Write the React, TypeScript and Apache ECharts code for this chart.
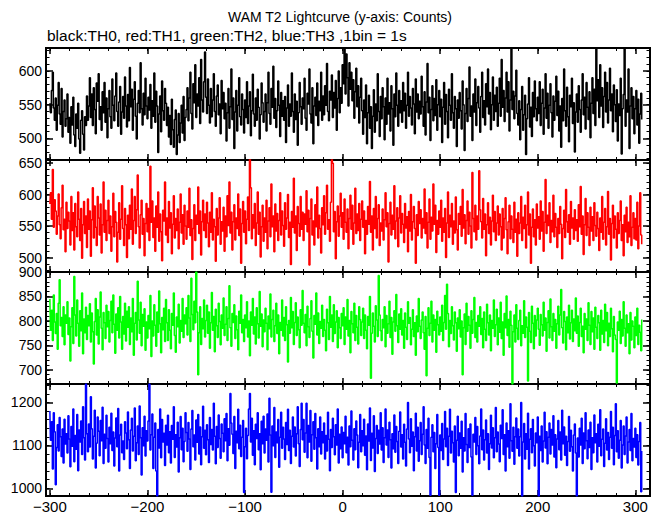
import React, { useEffect, useRef } from "react";
import * as echarts from "echarts";

const TITLE = "WAM T2 Lightcurve (y-axis: Counts)";
const SUBTITLE = "black:TH0, red:TH1, green:TH2, blue:TH3 ,1bin = 1s";

// time of first bin (s) and bin width (s)
const T_START = -300;
const BIN_S = 1;

// TH0 (black) counts per 1 s bin, t = -300 ... 307
const TH0 = [
  552, 538, 571, 598, 545, 527, 560, 512, 549, 583, 536, 521, 574, 502, 540, 557, 518, 529, 566, 509,
  531, 493, 547, 520, 561, 505, 488, 536, 515, 552, 499, 478, 527, 541, 506, 483, 532, 519, 563, 527,
  548, 590, 531, 566, 519, 575, 543, 507, 582, 555, 596, 528, 547, 512, 569, 538, 583, 524, 560, 501,
  544, 571, 532, 515, 588, 549, 526, 563, 597, 540, 518, 554, 577, 506, 539, 562, 530, 591, 548, 517,
  565, 526, 605, 547, 573, 512, 558, 584, 533, 499, 552, 571, 538, 612, 544, 520, 567, 535, 589, 548,
  529, 561, 542, 580, 515, 556, 533, 597, 524, 570, 548, 479, 536, 563, 510, 585, 541, 527, 574, 552,
  519, 546, 502, 534, 491, 558, 513, 487, 528, 542, 476, 505, 537, 494, 523, 549, 508, 562, 497, 531,
  543, 575, 526, 560, 598, 537, 514, 581, 553, 609, 531, 566, 548, 590, 522, 617, 557, 539, 584, 628,
  561, 537, 588, 549, 523, 574, 532, 557, 596, 540, 518, 563, 579, 535, 551, 507, 586, 544, 568, 529,
  552, 496, 538, 574, 515, 547, 603, 528, 560, 485, 539, 571, 511, 549, 590, 532, 520, 566, 543, 508,
  557, 531, 584, 522, 548, 569, 504, 541, 595, 536, 518, 560, 527, 573, 546, 499, 535, 582, 553, 524,
  540, 566, 511, 553, 598, 537, 521, 574, 546, 607, 530, 559, 516, 541, 585, 549, 503, 568, 533, 556,
  527, 562, 494, 545, 579, 518, 551, 533, 597, 540, 509, 566, 528, 555, 490, 538, 583, 547, 521, 560,
  544, 589, 530, 512, 567, 551, 603, 536, 523, 575, 492, 548, 561, 534, 582, 519, 555, 541, 598, 527,
  563, 535, 578, 549, 611, 540, 526, 570, 557, 594, 531, 568, 545, 586, 512, 559, 600, 538, 575, 552,
  609, 581, 634, 566, 625, 590, 548, 612, 573, 598, 556, 587, 530, 569, 604, 547, 578, 523, 561, 589,
  541, 506, 557, 531, 579, 492, 538, 564, 515, 547, 485, 533, 572, 509, 551, 526, 596, 540, 503, 562,
  529, 575, 547, 498, 560, 521, 589, 536, 553, 511, 578, 544, 490, 566, 532, 597, 549, 518, 571, 538,
  556, 524, 583, 541, 567, 515, 549, 598, 533, 562, 545, 520, 574, 551, 507, 588, 539, 566, 529, 555,
  536, 592, 547, 518, 569, 505, 554, 611, 538, 561, 497, 543, 578, 526, 559, 534, 587, 512, 550, 571,
  532, 558, 494, 546, 583, 521, 565, 540, 501, 573, 549, 527, 596, 538, 515, 562, 544, 488, 557, 530,
  568, 541, 514, 585, 550, 482, 537, 574, 525, 559, 606, 533, 548, 497, 566, 539, 588, 519, 553, 577,
  545, 509, 562, 598, 531, 556, 520, 581, 547, 603, 536, 568, 513, 550, 591, 527, 564, 540, 576, 518,
  552, 589, 533, 617, 546, 571, 525, 560, 598, 539, 584, 511, 557, 634, 543, 570, 529, 563, 601, 537,
  520, 556, 498, 543, 577, 512, 535, 564, 476, 529, 551, 590, 517, 546, 503, 568, 532, 585, 544, 526,
  561, 537, 584, 519, 552, 573, 506, 545, 596, 530, 567, 515, 549, 581, 538, 502, 563, 527, 555, 592,
  534, 570, 511, 548, 487, 559, 526, 603, 541, 518, 576, 532, 495, 564, 547, 589, 522, 553, 480, 539,
  566, 524, 578, 543, 509, 557, 596, 535, 561, 514, 583, 546, 528, 569, 501, 552, 590, 537, 573, 519,
  634, 556, 587, 531, 609, 548, 575, 516, 562, 598, 539, 583, 523, 557, 604, 541, 566, 510, 579, 550,
  525, 572, 496, 551, 534, 589, 477, 544, 565, 634, 518, 557, 539, 603, 485, 548, 575, 529, 562, 507,
  544, 571, 520, 558, 493, 536, 567, 528,
];

// TH1 (red)
const TH1 = [
  585, 603, 561, 640, 548, 592, 574, 537, 566, 601, 552, 530, 579, 615, 544, 561, 509, 588, 546, 572,
  558, 520, 597, 543, 571, 512, 586, 549, 533, 604, 561, 527, 578, 499, 552, 589, 538, 566, 516, 593,
  545, 574, 502, 560, 611, 531, 582, 548, 519, 597, 563, 536, 585, 507, 552, 620, 540, 575, 527, 559,
  591, 538, 566, 510, 549, 602, 533, 573, 556, 493, 540, 587, 529, 561, 614, 546, 519, 578, 552, 500,
  567, 530, 583, 545, 609, 521, 559, 597, 538, 576, 631, 549, 515, 568, 591, 537, 562, 503, 554, 586,
  541, 578, 527, 645, 556, 590, 532, 563, 510, 582, 548, 604, 526, 569, 541, 495, 575, 558, 620, 536,
  563, 524, 589, 547, 571, 506, 553, 598, 531, 562, 543, 577, 514, 556, 601, 539, 568, 521, 583, 550,
  529, 574, 548, 610, 535, 560, 497, 546, 584, 527, 567, 553, 612, 538, 574, 504, 557, 591, 543, 569,
  532, 588, 555, 517, 572, 540, 603, 528, 561, 549, 494, 578, 536, 563, 595, 521, 557, 542, 580, 510,
  566, 533, 598, 551, 620, 539, 572, 512, 557, 584, 528, 563, 546, 601, 535, 577, 491, 554, 589, 540,
  574, 522, 561, 596, 543, 657, 611, 530, 568, 547, 586, 519, 555, 604, 537, 572, 501, 549, 583, 526,
  563, 540, 591, 514, 558, 579, 533, 617, 549, 566, 509, 585, 542, 570, 527, 559, 603, 536, 574, 551,
  518, 587, 545, 563, 600, 532, 556, 489, 573, 548, 626, 539, 566, 511, 581, 554, 534, 597, 545, 572,
  527, 569, 553, 606, 541, 575, 488, 562, 593, 536, 558, 520, 584, 549, 612, 531, 567, 546, 507, 579,
  552, 598, 537, 571, 615, 545, 560, 526, 588, 657, 650, 541, 573, 498, 557, 582, 534, 566, 602, 548,
  571, 529, 593, 556, 540, 577, 514, 562, 599, 545, 583, 521, 555, 610, 538, 569, 543, 586, 527, 561,
  590, 548, 574, 506, 559, 537, 581, 553, 621, 540, 566, 512, 578, 546, 597, 531, 562, 584, 519, 555,
  542, 577, 528, 560, 603, 549, 571, 493, 554, 588, 536, 567, 545, 614, 530, 558, 579, 517, 563, 598,
  539, 570, 553, 524, 586, 547, 565, 509, 573, 542, 600, 528, 557, 581, 546, 491, 568, 535, 589, 554,
  576, 531, 562, 547, 609, 538, 571, 515, 556, 593, 529, 564, 542, 617, 553, 583, 508, 559, 537, 574,
  548, 591, 526, 563, 540, 578, 500, 555, 604, 532, 567, 549, 586, 521, 558, 539, 596, 544, 512, 570,
  553, 581, 534, 608, 547, 568, 522, 559, 590, 537, 572, 550, 515, 635, 562, 541, 583, 528, 566, 545,
  638, 576, 557, 531, 594, 545, 569, 503, 552, 587, 538, 564, 520, 558, 599, 541, 573, 527, 555, 582,
  536, 569, 549, 512, 578, 531, 562, 595, 544, 506, 557, 583, 530, 566, 545, 524, 588, 540, 561, 502,
  571, 538, 555, 597, 527, 564, 546, 583, 515, 552, 604, 536, 569, 491, 548, 577, 533, 560, 520, 585,
  547, 565, 529, 590, 542, 573, 510, 556, 624, 538, 567, 551, 587, 524, 559, 541, 599, 533, 570, 548,
  516, 562, 538, 581, 553, 498, 546, 575, 532, 608, 557, 540, 568, 521, 589, 547, 563, 529, 576, 543,
  560, 526, 584, 549, 613, 537, 566, 505, 552, 594, 535, 571, 548, 519, 580, 542, 565, 527, 587, 551,
  534, 572, 546, 511, 563, 540, 597, 529, 556, 578, 520, 549, 605, 537, 562, 496, 554, 583, 531, 566,
  545, 515, 571, 538, 559, 590, 527, 552, 503, 567, 541, 580, 524, 556, 533, 598, 519, 548, 571, 530,
  562, 528, 588, 514, 550, 603, 536, 521,
];

// TH2 (green)
const TH2 = [
  845, 781, 822, 760, 853, 798, 774, 815, 742, 836, 884, 790, 807, 768, 829, 751, 812, 795, 839, 772,
  806, 718, 788, 827, 754, 891, 812, 769, 843, 795, 748, 821, 780, 857, 733, 804, 776, 828, 762, 811,
  790, 835, 757, 816, 778, 712, 799, 846, 771, 823, 753, 808, 859, 785, 741, 817, 796, 764, 832, 788,
  819, 757, 801, 840, 776, 853, 793, 734, 814, 781, 827, 765, 850, 798, 742, 809, 773, 836, 759, 820,
  787, 829, 752, 806, 778, 846, 730, 795, 817, 761, 881, 802, 775, 838, 749, 813, 789, 825, 740, 798,
  765, 811, 784, 852, 727, 800, 769, 833, 791, 748, 818, 777, 861, 794, 735, 807, 782, 826, 758, 844,
  796, 760, 823, 781, 743, 815, 791, 857, 770, 736, 808, 788, 834, 755, 801, 779, 846, 766, 812, 794,
  827, 771, 852, 806, 758, 887, 813, 782, 840, 796, 900, 818, 690, 776, 829, 752, 805, 784, 843, 767,
  801, 832, 775, 818, 744, 796, 858, 781, 809, 737, 824, 790, 766, 836, 799, 751, 812, 785, 847, 770,
  793, 829, 760, 805, 872, 786, 748, 815, 797, 833, 764, 810, 782, 741, 820, 795, 853, 776, 803, 758,
  812, 786, 839, 767, 800, 729, 818, 791, 846, 773, 808, 753, 827, 794, 765, 860, 789, 814, 747, 802,
  778, 826, 795, 741, 810, 784, 855, 767, 803, 822, 758, 790, 836, 774, 812, 733, 797, 781, 843, 769,
  807, 760, 829, 792, 716, 801, 775, 848, 786, 819, 752, 797, 837, 770, 808, 782, 745, 823, 791, 862,
  795, 776, 813, 749, 830, 788, 766, 805, 841, 779, 724, 811, 793, 857, 771, 816, 754, 799, 785, 832,
  768, 803, 781, 739, 824, 796, 762, 850, 787, 812, 758, 833, 774, 798, 821, 745, 807, 786, 764, 815,
  790, 827, 752, 808, 783, 844, 769, 801, 735, 819, 794, 776, 836, 760, 811, 787, 753, 829, 803, 770,
  798, 826, 764, 812, 781, 743, 809, 791, 850, 683, 775, 816, 789, 757, 831, 802, 768, 893, 812, 780,
  760, 803, 786, 829, 747, 811, 775, 794, 840, 766, 807, 732, 798, 821, 779, 854, 790, 756, 814, 783,
  825, 771, 801, 744, 816, 787, 762, 839, 795, 807, 751, 783, 823, 768, 796, 730, 810, 778, 846, 789,
  764, 802, 818, 776, 742, 809, 688, 785, 827, 770, 795, 840, 757, 812, 781, 803, 736, 820, 792, 771,
  808, 779, 832, 760, 797, 852, 783, 875, 815, 747, 801, 774, 829, 790, 761, 818, 796, 738, 806, 784,
  823, 767, 800, 690, 786, 814, 752, 836, 779, 809, 791, 744, 821, 775, 803, 848, 766, 797, 757, 811,
  789, 829, 772, 805, 745, 818, 783, 760, 834, 796, 771, 812, 739, 801, 785, 843, 768, 792, 824, 751,
  806, 777, 838, 764, 798, 730, 815, 786, 851, 770, 803, 746, 820, 791, 671, 778, 812, 757, 833, 785,
  762, 801, 822, 749, 790, 775, 841, 766, 808, 787, 677, 817, 779, 756, 830, 795, 743, 811, 769, 802,
  826, 783, 750, 813, 792, 769, 838, 781, 806, 738, 797, 821, 765, 845, 788, 760, 815, 779, 803, 744,
  794, 830, 771, 812, 864, 786, 755, 819, 799, 741, 808, 776, 832, 763, 796, 822, 758, 804, 780, 847,
  775, 810, 748, 797, 826, 768, 789, 735, 815, 783, 804, 760, 837, 791, 752, 819, 778, 806, 742, 828,
  787, 764, 811, 796, 740, 822, 773, 801, 756, 834, 780, 817, 749, 795, 768, 826, 784, 737, 809, 771,
  762, 673, 798, 781, 820, 754, 803, 769, 839, 785, 748, 812, 776, 794, 733, 817, 761, 800, 789, 745,
  808, 770, 826, 752, 791, 777, 739, 803,
];

// TH3 (blue)
const TH3 = [
  1180, 1112, 1155, 1045, 1176, 1132, 1008, 1095, 1148, 1087, 1165, 1120, 1074, 1138, 1059, 1161, 1103, 1127, 1082, 1169,
  1115, 1050, 1144, 1098, 1185, 1062, 1123, 1091, 1172, 1041, 1136, 1108, 1157, 1079, 1190, 1118, 1066, 1243, 1127, 1085,
  1150, 1096, 1213, 1139, 1068, 1121, 1182, 1047, 1105, 1166, 1133, 1076, 1158, 1111, 1189, 1058, 1126, 1093, 1170, 1116,
  1061, 1142, 1104, 1175, 1088, 1131, 1052, 1117, 1164, 1097, 1186, 1040, 1124, 1149, 1083, 1110, 1067, 1155, 1129, 1092,
  1178, 1113, 1046, 1136, 1163, 1087, 1121, 1187, 1064, 1106, 1145, 1079, 1192, 1118, 1031, 1141, 1099, 1168, 1075, 1134,
  1110, 1157, 1243, 1089, 1125, 1173, 1046, 1119, 1152, 1040, 982, 1137, 1094, 1185, 1071, 1160, 1108, 1128, 1053, 1147,
  1101, 1170, 1083, 1132, 1059, 1146, 1114, 1190, 1072, 1125, 1096, 1154, 1038, 1118, 1167, 1090, 1140, 1062, 1109, 1176,
  1130, 1086, 1153, 1115, 1044, 1138, 1181, 1097, 1124, 1066, 1159, 1107, 1172, 1080, 1143, 1055, 1120, 1191, 1093, 1135,
  1078, 1148, 1113, 1060, 1165, 1102, 1137, 1089, 1198, 1121, 1057, 1144, 1095, 1171, 1116, 1070, 1150, 1128, 1085, 1162,
  1111, 1174, 1064, 1139, 1100, 1221, 1152, 1126, 1081, 1167, 1046, 1133, 1106, 1184, 1092, 1147, 1074, 1119, 1158, 990,
  1097, 1140, 1069, 1123, 1185, 1221, 1108, 1163, 1077, 1134, 1055, 1149, 1116, 1176, 1090, 1127, 1043, 1156, 1104, 1168,
  1082, 1138, 1112, 1173, 1061, 1210, 1124, 991, 1145, 1099, 1188, 1072, 1131, 1106, 1160, 1049, 1119, 1177, 1093, 1142,
  1115, 1067, 1153, 1102, 1184, 1088, 1135, 1058, 1121, 1166, 1096, 1143, 1075, 1127, 1190, 1104, 1051, 1137, 1198, 1113,
  1160, 1084, 1129, 1198, 1071, 1146, 1108, 1181, 1063, 1125, 1155, 1091, 1174, 1118, 1045, 1139, 1097, 1166, 1080, 1132,
  1106, 1152, 1068, 1123, 1087, 1177, 1114, 1041, 1137, 1095, 1163, 1120, 1078, 1148, 1101, 1185, 1059, 1126, 1092, 1143,
  1071, 1130, 1104, 1168, 1083, 1119, 1054, 1145, 1097, 1180, 1112, 1066, 1139, 1090, 1157, 1124, 1048, 1107, 1172, 1085,
  1134, 1099, 1161, 1077, 1122, 1043, 1150, 1110, 1187, 1065, 1128, 1094, 1169, 1039, 1116, 1146, 1081, 1135, 1103, 1176,
  1089, 1141, 1060, 1118, 1185, 1101, 1136, 1072, 1154, 1113, 1047, 1127, 1092, 1171, 1084, 1144, 1109, 1058, 1133, 1178,
  1096, 1125, 1068, 1149, 1107, 1052, 1138, 1200, 1115, 1083, 1162, 1098, 1131, 1041, 1120, 1175, 1087, 1142, 1063, 1111,
  1153, 1079, 1126, 1190, 1101, 1058, 1137, 1093, 1163, 1072, 984, 1119, 1148, 1085, 1130, 1046, 1104, 1172, 1095, 984,
  1124, 1088, 1151, 1067, 1115, 1179, 1097, 1140, 1053, 1121, 1184, 1082, 1133, 1106, 1061, 1145, 990, 1112, 1168, 1076,
  1129, 1093, 1156, 1038, 1118, 1087, 1174, 1102, 1060, 1139, 1095, 1150, 1073, 984, 1126, 1108, 1165, 1079, 1144, 1099,
  1057, 1122, 1185, 1090, 1136, 1066, 1113, 1159, 1082, 1127, 1044, 1104, 1170, 1094, 1141, 1071, 1118, 1188, 1085, 1131,
  1103, 1062, 1147, 1116, 1183, 1079, 1125, 1040, 1152, 1097, 1134, 1070, 1197, 1111, 1086, 1142, 1056, 1120, 1164, 1093,
  1138, 1075, 1120, 1200, 982, 1108, 1151, 1068, 1127, 1091, 1175, 1045, 1114, 1139, 1083, 1160, 1099, 1052, 1129, 1106,
  1166, 982, 1121, 1088, 1145, 1061, 1110, 1177, 1094, 1132, 1057, 1119, 1152, 1080, 1137, 1101, 1169, 1073, 1125, 1048,
  1115, 1158, 1090, 1131, 1066, 1182, 1104, 1143, 1077, 1121, 1053, 1109, 1167, 1086, 1135, 1097, 1040, 1124, 1150, 1082,
  982, 1117, 1073, 1140, 1101, 1163, 1058, 1129, 1092, 1176, 1111, 1069, 1136, 1095, 1154, 1044, 1118, 1083, 1171, 1106,
  1127, 1061, 1149, 1098, 1183, 1076, 1114, 1138, 1051, 1105, 1162, 1089, 1130, 1067, 1119, 1179, 1093, 1142, 1055, 1123,
  1197, 1085, 1134, 1070, 1112, 1158, 1047, 1101, 1145, 1079, 1122, 1166, 1059, 1108, 1137, 1088, 1174, 1064, 1116, 1096,
  1140, 1072, 1125, 1054, 1109, 1153, 992, 1087,
];

// x axis
const X_RANGE = [-304, 315];
const X_MAJOR = [-300, -200, -100, 0, 100, 200, 300];
const X_MINOR = [
  -300, -280, -260, -240, -220, -200, -180, -160, -140, -120, -100, -80, -60, -40, -20,
  0, 20, 40, 60, 80, 100, 120, 140, 160, 180, 200, 220, 240, 260, 280, 300,
];

// y axes, one per panel
const Y_RANGES = [
  [468, 634],
  [477, 655],
  [671, 900],
  [982, 1243],
];
const Y_MAJOR = [
  [500, 550, 600],
  [500, 550, 600, 650],
  [700, 750, 800, 850, 900],
  [1000, 1100, 1200],
];
const Y_MINOR = [
  [470, 480, 490, 500, 510, 520, 530, 540, 550, 560, 570, 580, 590, 600, 610, 620, 630],
  [480, 490, 500, 510, 520, 530, 540, 550, 560, 570, 580, 590, 600, 610, 620, 630, 640, 650],
  [680, 690, 700, 710, 720, 730, 740, 750, 760, 770, 780, 790, 800, 810, 820, 830, 840, 850, 860, 870, 880, 890, 900],
  [1000, 1020, 1040, 1060, 1080, 1100, 1120, 1140, 1160, 1180, 1200, 1220, 1240],
];

const SERIES_NAMES = ["TH0", "TH1", "TH2", "TH3"];
const SERIES_DATA = [TH0, TH1, TH2, TH3];
const SERIES_COLORS = ["#000000", "#ff0000", "#00ff00", "#0000ff"];

const FONT = '"Liberation Sans", Arial, Helvetica, sans-serif';

function buildOption() {
  const GRID_TOP = 48;
  const PANEL_H = 112;
  const LEFT = 46;
  const RIGHT = 11;
  const grids: any[] = [];
  const xAxes: any[] = [];
  const yAxes: any[] = [];
  const series: any[] = [];
  const axisLine = { show: true, onZero: false, lineStyle: { color: "#000", width: 2 } };
  const fmtX = (v: number) => String(v).replace("-", "\u2212");
  const fmtY = (v: number) => String(v);

  SERIES_DATA.forEach((data, i) => {
    grids.push({ left: LEFT, right: RIGHT, top: GRID_TOP + i * PANEL_H, height: PANEL_H });
    const xBase = {
      type: "value",
      gridIndex: i,
      min: X_RANGE[0],
      max: X_RANGE[1],
      splitLine: { show: false },
      axisLine,
    };
    const xMain = xAxes.length;
    (["bottom", "top"] as const).forEach((pos) => {
      xAxes.push({
        ...xBase,
        position: pos,
        axisTick: { show: true, inside: true, length: 6, customValues: X_MAJOR, lineStyle: { color: "#000", width: 1.5 } },
        axisLabel: {
          show: pos === "bottom" && i === SERIES_DATA.length - 1,
          customValues: X_MAJOR,
          formatter: fmtX,
          color: "#000",
          fontFamily: FONT,
          fontSize: 15,
          lineHeight: 14,
          margin: 3,
        },
      });
      xAxes.push({
        ...xBase,
        position: pos,
        axisTick: { show: true, inside: true, length: 3, customValues: X_MINOR, lineStyle: { color: "#000", width: 1 } },
        axisLabel: { show: false },
      });
    });

    const [ymin, ymax] = Y_RANGES[i];
    const yBase = {
      type: "value",
      gridIndex: i,
      min: ymin,
      max: ymax,
      splitLine: { show: false },
      axisLine,
    };
    const yMain = yAxes.length;
    (["left", "right"] as const).forEach((pos) => {
      yAxes.push({
        ...yBase,
        position: pos,
        axisTick: { show: true, inside: true, length: 7, customValues: Y_MAJOR[i], lineStyle: { color: "#000", width: 1.5 } },
        axisLabel: {
          show: pos === "left",
          customValues: Y_MAJOR[i],
          formatter: fmtY,
          color: "#000",
          fontFamily: FONT,
          fontSize: 14,
          lineHeight: 12,
          margin: 4,
        },
      });
      yAxes.push({
        ...yBase,
        position: pos,
        axisTick: { show: true, inside: true, length: 3.5, customValues: Y_MINOR[i], lineStyle: { color: "#000", width: 1 } },
        axisLabel: { show: false },
      });
    });

    series.push({
      name: SERIES_NAMES[i],
      type: "line",
      xAxisIndex: xMain,
      yAxisIndex: yMain,
      data: data.map((v, k) => [T_START + k * BIN_S, v]),
      showSymbol: false,
      symbol: "none",
      step: "middle",
      clip: true,
      silent: true,
      lineStyle: { color: SERIES_COLORS[i], width: 1.5 },
      itemStyle: { color: SERIES_COLORS[i] },
    });
  });

  return {
    animation: false,
    backgroundColor: "#ffffff",
    grid: grids,
    xAxis: xAxes,
    yAxis: yAxes,
    series,
    graphic: [
      {
        type: "text",
        x: 340,
        y: 17,
        style: {
          text: TITLE,
          fill: "#000",
          font: `14px ${FONT}`,
          textAlign: "center",
          textVerticalAlign: "middle",
        },
      },
      {
        type: "text",
        x: 47,
        y: 35,
        style: {
          text: SUBTITLE,
          fill: "#000",
          font: `15.5px ${FONT}`,
          textAlign: "left",
          textVerticalAlign: "middle",
        },
      },
    ],
  };
}

export default function App() {
  const ref = useRef<HTMLDivElement>(null);
  useEffect(() => {
    if (!ref.current) return;
    const chart = echarts.init(ref.current, null, { renderer: "svg" });
    chart.setOption(buildOption() as any);
    return () => chart.dispose();
  }, []);
  return (
    <div
      ref={ref}
      style={{ position: "fixed", left: 0, top: 0, width: 661, height: 515, background: "#fff" }}
    />
  );
}
